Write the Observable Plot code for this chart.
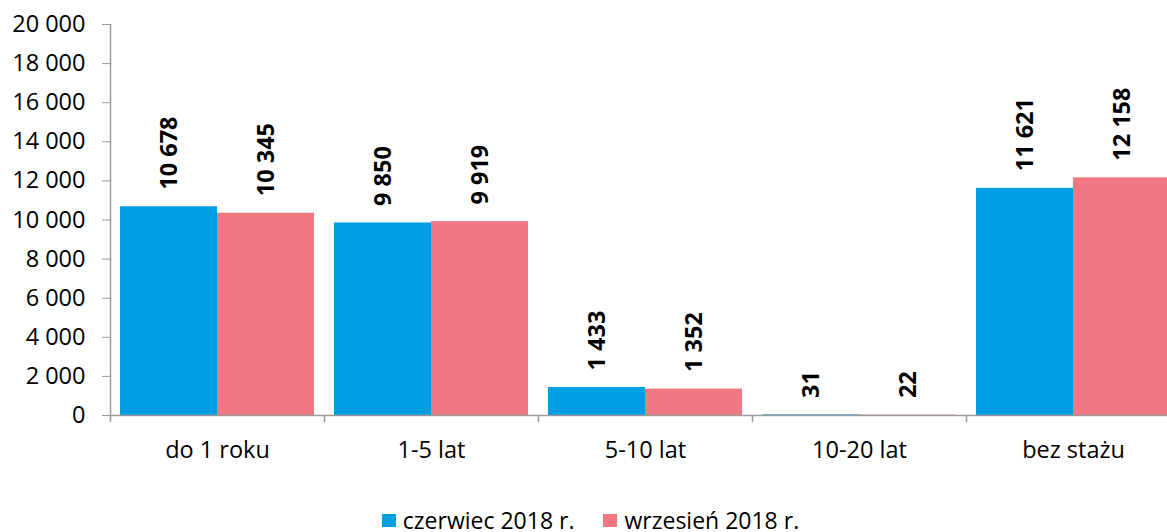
<!DOCTYPE html>
<html><head><meta charset="utf-8">
<script src="https://cdn.jsdelivr.net/npm/d3@7"></script>
<script src="https://cdn.jsdelivr.net/npm/@observablehq/plot@0.6"></script>
<style>
html,body{margin:0;padding:0;background:#fff;overflow:hidden}
body{font-family:"Open Sans",sans-serif;color:#000}
#legend{display:flex;justify-content:center;align-items:center;height:30px;font-size:23px;line-height:30px;padding-left:14px;gap:29px}
.item{display:flex;align-items:center}
.sw{display:inline-block;width:14px;height:13px;margin-right:7px}
</style></head><body>
<div id="chart"></div><div id="legend"></div>
<script>
const categories = ["do 1 roku", "1-5 lat", "5-10 lat", "10-20 lat", "bez stażu"];
const seriesNames = ["czerwiec 2018 r.", "wrzesień 2018 r."];
const czerwiec = [10678, 9850, 1433, 31, 11621];
const wrzesien = [10345, 9919, 1352, 22, 12158];
const yTicks = [0, 2000, 4000, 6000, 8000, 10000, 12000, 14000, 16000, 18000, 20000];
const colors = ["#009FE3", "#EF7882"];

const W = 1167, H = 505, mL = 110, mR = -13, mT = 24, mB = 90;
const bw = (W - mL - mR) / categories.length;
const pad = 10;
const barW = (bw - 2 * pad) / 2;
const fs = 23.5;

const fmt = d3.formatLocale({thousands: "\u00a0", grouping: [3], decimal: ",", currency: ["", ""]}).format(",d");

const rows = [];
categories.forEach((c, i) => {
  rows.push({cat: c, series: seriesNames[0], value: czerwiec[i]});
  rows.push({cat: c, series: seriesNames[1], value: wrzesien[i]});
});
const rowsA = rows.filter(d => d.series === seriesNames[0]);
const rowsB = rows.filter(d => d.series === seriesNames[1]);
const grey = "#9a9a9a";

const chart = Plot.plot({
  width: W, height: H,
  marginLeft: mL, marginRight: mR, marginTop: mT, marginBottom: mB,
  style: {fontFamily: "'Open Sans', sans-serif", fontSize: fs + "px", color: "#000", background: "#fff"},
  x: {domain: categories, padding: 0, label: null},
  y: {domain: [0, 20000], label: null},
  color: {domain: seriesNames, range: colors},
  marks: [
    Plot.barY(rowsA, {x: "cat", y: "value", fill: "series", insetLeft: pad, insetRight: bw / 2}),
    Plot.barY(rowsB, {x: "cat", y: "value", fill: "series", insetLeft: bw / 2, insetRight: pad}),
    Plot.ruleY([0], {stroke: grey, strokeWidth: 1.5}),
    Plot.ruleX([categories[0]], {x: d => d, dx: -bw / 2, y1: 20000, y2: 0, insetBottom: -7, stroke: grey, strokeWidth: 1.5}),
    Plot.ruleX(categories.slice(1), {x: d => d, dx: -bw / 2, y1: 0, y2: 0, insetBottom: -7, stroke: grey, strokeWidth: 1.5}),
    Plot.axisY({ticks: yTicks, tickFormat: fmt, tickSize: 8, tickPadding: 17, stroke: grey, fontSize: fs, fill: "#000", label: null}),
    Plot.axisX({tickSize: 0, tickPadding: 26, fontSize: fs, fill: "#000", label: null}),
    Plot.text(rowsA, {x: "cat", y: "value", text: d => fmt(d.value), rotate: -90, textAnchor: "start", dx: -barW / 2, dy: -17, fontWeight: "bold", fontSize: fs, fill: "#000"}),
    Plot.text(rowsB, {x: "cat", y: "value", text: d => fmt(d.value), rotate: -90, textAnchor: "start", dx: barW / 2, dy: -17, fontWeight: "bold", fontSize: fs, fill: "#000"})
  ]
});
document.getElementById("chart").append(chart);

const cs = chart.scale("color");
const legend = d3.select("#legend");
seriesNames.forEach(s => {
  const it = legend.append("div").attr("class", "item");
  it.append("span").attr("class", "sw").style("background", cs.apply(s));
  it.append("span").text(s);
});
</script>
</body></html>
